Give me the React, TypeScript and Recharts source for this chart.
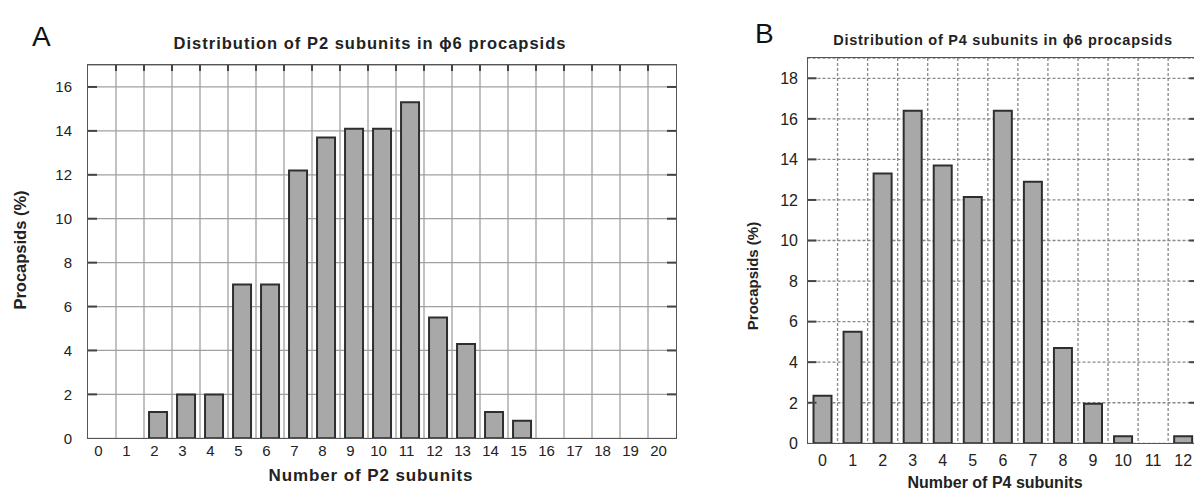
import * as React from 'react';
import { BarChart, Bar, XAxis, YAxis, CartesianGrid } from 'recharts';

// panel A: P2 subunits per procapsid
const p2Counts = ['0', '1', '2', '3', '4', '5', '6', '7', '8', '9', '10', '11', '12', '13', '14', '15', '16', '17', '18', '19', '20'];
const p2Percent = [0, 0, 1.2, 2.0, 2.0, 7.0, 7.0, 12.2, 13.7, 14.1, 14.1, 15.3, 5.5, 4.3, 1.2, 0.8, 0, 0, 0, 0, 0];
const p2Ticks = [0, 2, 4, 6, 8, 10, 12, 14, 16];

// panel B: P4 subunits per procapsid
const p4Counts = ['0', '1', '2', '3', '4', '5', '6', '7', '8', '9', '10', '11', '12'];
const p4Percent = [2.35, 5.5, 13.3, 16.4, 13.7, 12.15, 16.4, 12.9, 4.7, 1.95, 0.35, 0, 0.35];
const p4Ticks = [0, 2, 4, 6, 8, 10, 12, 14, 16, 18];

const FONT = '"Liberation Sans", Arial, Helvetica, sans-serif';

interface PanelProps {
  counts: string[];
  values: number[];
  ticks: number[];
  yMax: number;
  svgW: number;
  svgH: number;
  left: number;
  top: number;
  right: number;
  bottom: number;
  yGap: number;
  xGap: number;
  xShift: number;
  tickFont: number;
  gridDash?: string;
  gridColor: string;
  gap: string;
  topTicks: boolean;
}

const Panel = (p: PanelProps) => {
  const data = p.counts.map((c, i) => ({ n: c, pct: p.values[i] }));
  const band = (p.right - p.left) / p.counts.length;

  const YTick = (props: any) => {
    const { x, y, payload } = props;
    const v = payload.value;
    return (
      <g>
        <text x={x} y={y} dy="0.36em" textAnchor="end" fontSize={p.tickFont} fontFamily={FONT} fill="#222">
          {v}
        </text>
        {v > 0 && (
          <>
            <line x1={p.left} x2={p.left + 9} y1={y} y2={y} stroke="#444" strokeWidth={2} />
            <line x1={p.right - 9} x2={p.right} y1={y} y2={y} stroke="#444" strokeWidth={2} />
          </>
        )}
      </g>
    );
  };

  const XTick = (props: any) => {
    const { x, y, payload, index } = props;
    return (
      <g>
        <text x={x + p.xShift} y={y + p.xGap} dy="0.36em" textAnchor="middle" fontSize={p.tickFont} fontFamily={FONT} fill="#222">
          {payload.value}
        </text>
        {p.topTicks && index > 0 && (
          <line x1={x - band / 2} x2={x - band / 2} y1={p.top} y2={p.top + 6} stroke="#444" strokeWidth={2} />
        )}
      </g>
    );
  };

  return (
    <div style={{ position: 'relative', width: p.svgW, height: p.svgH }}>
      <BarChart
        width={p.svgW}
        height={p.svgH}
        data={data}
        margin={{ top: p.top, right: p.svgW - p.right, left: 0, bottom: 0 }}
        barCategoryGap={p.gap}
      >
        <CartesianGrid
          stroke={p.gridColor}
          strokeWidth={1.3}
          strokeDasharray={p.gridDash}
          verticalCoordinatesGenerator={() => p.counts.slice(1).map((_, i) => p.left + (i + 1) * band)}
        />
        <XAxis
          dataKey="n"
          height={p.svgH - p.bottom}
          interval={0}
          tickLine={false}
          axisLine={false}
          tickSize={0}
          tickMargin={0}
          tick={<XTick />}
        />
        <YAxis
          type="number"
          width={p.left}
          domain={[0, p.yMax]}
          ticks={p.ticks}
          allowDataOverflow
          tickLine={false}
          axisLine={false}
          tickSize={p.yGap}
          tickMargin={0}
          tick={<YTick />}
        />
        <Bar dataKey="pct" fill="#a8a8a8" stroke="#2e2e2e" strokeWidth={2} isAnimationActive={false} />
      </BarChart>
      <div
        style={{
          position: 'absolute',
          left: p.left - 0.75,
          top: p.top - 0.75,
          width: p.right - p.left + 1.5,
          height: p.bottom - p.top + 1.5,
          border: '1.5px solid #555',
          boxSizing: 'border-box',
          pointerEvents: 'none',
        }}
      />
    </div>
  );
};

const App = () => {
  return (
    <div
      style={{
        position: 'absolute',
        left: 0,
        top: 0,
        width: 1194,
        height: 490,
        overflow: 'hidden',
        background: '#fff',
      }}
    >
      <div style={{ position: 'absolute', left: 0, top: 0 }}>
        <Panel
          counts={p2Counts}
          values={p2Percent}
          ticks={p2Ticks}
          yMax={17}
          svgW={690}
          svgH={490}
          left={88}
          top={65}
          right={676}
          bottom={438.3}
          yGap={16}
          xGap={12.7}
          xShift={-3.5}
          tickFont={15}
          gridColor="#a0a0a0"
          gap="18%"
          topTicks
        />
      </div>
      <div style={{ position: 'absolute', left: 700, top: 0 }}>
        <Panel
          counts={p4Counts}
          values={p4Percent}
          ticks={p4Ticks}
          yMax={19}
          svgW={510}
          svgH={490}
          left={107.5}
          top={58}
          right={498.2}
          bottom={443.3}
          yGap={9.5}
          xGap={17.2}
          xShift={0}
          tickFont={16}
          gridColor="#888"
          gridDash="3 2"
          gap="20%"
          topTicks={false}
        />
      </div>
      <svg
        width={1194}
        height={490}
        style={{ position: 'absolute', left: 0, top: 0, pointerEvents: 'none' }}
        fontFamily={FONT}
      >
        <text x={32} y={46} fontSize={28} fill="#111">A</text>
        <text x={755} y={43} fontSize={28} fill="#111">B</text>
        <text x={370} y={48.5} fontSize={16.5} fontWeight="bold" letterSpacing={1} textAnchor="middle" fill="#222">
          Distribution of P2 subunits in ϕ6 procapsids
        </text>
        <text x={1003} y={44.5} fontSize={14.5} fontWeight="bold" letterSpacing={0.75} textAnchor="middle" fill="#222">
          Distribution of P4 subunits in ϕ6 procapsids
        </text>
        <text x={371} y={481} fontSize={17} fontWeight="bold" letterSpacing={0.9} textAnchor="middle" fill="#222">
          Number of P2 subunits
        </text>
        <text x={995} y={488} fontSize={16} fontWeight="bold" textAnchor="middle" fill="#222">
          Number of P4 subunits
        </text>
        <text
          x={20}
          y={250}
          fontSize={16.5}
          fontWeight="bold"
          textAnchor="middle"
          dominantBaseline="central"
          transform="rotate(-90 20 250)"
          fill="#222"
        >
          Procapsids (%)
        </text>
        <text
          x={752}
          y={276}
          fontSize={15}
          fontWeight="bold"
          textAnchor="middle"
          dominantBaseline="central"
          transform="rotate(-90 752 276)"
          fill="#222"
        >
          Procapsids (%)
        </text>
      </svg>
    </div>
  );
};

export default App;
